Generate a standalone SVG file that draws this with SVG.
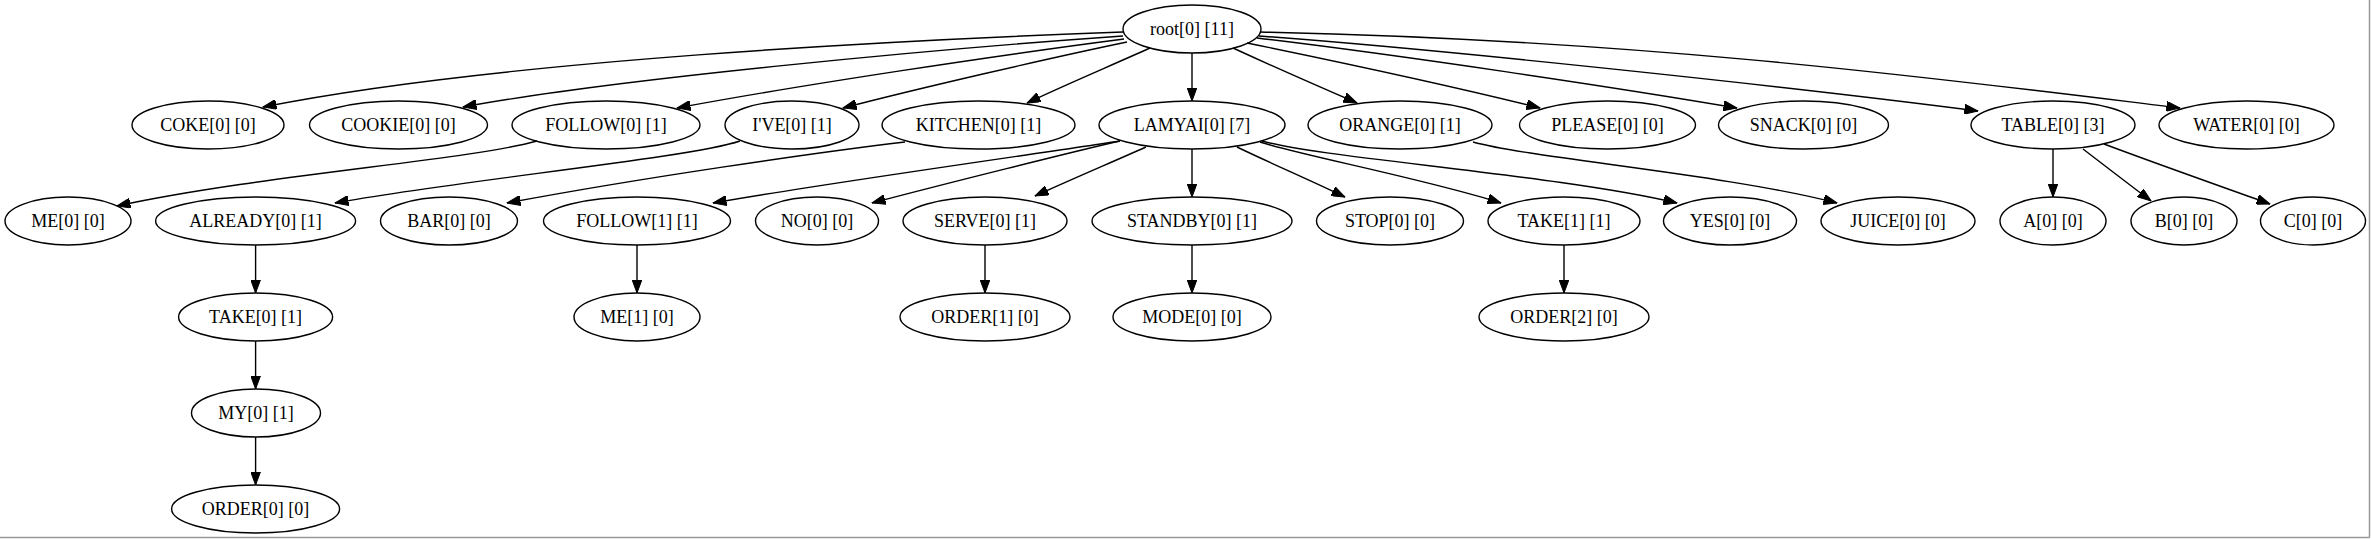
<svg xmlns="http://www.w3.org/2000/svg" width="2371" height="539" viewBox="0 0 2371 539">
<defs>
<style>
.n ellipse{fill:none;stroke:#000;stroke-width:1.4}
.n text{font-family:"Liberation Serif","Times New Roman",serif;font-size:18px;text-anchor:middle;fill:#000}
.e path{fill:none;stroke:#000;stroke-width:1.4;marker-end:url(#ah)}
</style>
<marker id="ah" viewBox="0 0 14 10" markerWidth="14" markerHeight="10" refX="13.5" refY="5" orient="auto" markerUnits="userSpaceOnUse">
<path d="M0,0 L13.5,5 L0,10 z" fill="#000" stroke="#000" stroke-width="1"/>
</marker>
</defs>
<rect width="2371" height="539" fill="#fff"/>
<line x1="0" y1="537.5" x2="2369.5" y2="537.5" stroke="#999" stroke-width="1.5"/>
<line x1="2369.5" y1="0" x2="2369.5" y2="537.5" stroke="#999" stroke-width="1.5"/>
<g class="e" id="edges">
<path d="M1123,32 C900,40 500,60 263,107"/>
<path d="M1123,36 C950,48 620,78 463,107"/>
<path d="M1124,39 C1000,55 800,85 677,108"/>
<path d="M1127,42 C1050,58 920,88 843,108"/>
<path d="M1150,48 C1110,66 1060,87 1027,103"/>
<path d="M1192,53 L1192,101"/>
<path d="M1233,48 C1270,65 1320,87 1357,103"/>
<path d="M1247,43 C1320,58 1440,83 1540,108"/>
<path d="M1257,38 C1400,55 1620,88 1737,108"/>
<path d="M1259,36 C1450,50 1800,88 1978,111"/>
<path d="M1260,32 C1650,40 1950,80 2180,108"/>
<path d="M537,141 C470,160 260,175 117,206"/>
<path d="M740,141 C690,158 460,180 335,203"/>
<path d="M905,142 C820,152 640,178 507,203"/>
<path d="M1120,141 C1050,152 820,184 713,203"/>
<path d="M1120,141 C1080,150 940,185 872,203"/>
<path d="M1146,147 C1110,163 1070,180 1035,196"/>
<path d="M1192,149 L1192,197"/>
<path d="M1237,147 C1270,163 1310,180 1345,197"/>
<path d="M1260,142 C1300,155 1430,180 1501,203"/>
<path d="M1262,141 C1320,158 1560,175 1677,203"/>
<path d="M1473,142 C1530,158 1730,175 1837,203"/>
<path d="M2053,149 L2053,197"/>
<path d="M2083,149 C2105,166 2130,185 2151,201"/>
<path d="M2104,144 C2160,165 2220,186 2270,204"/>
<path d="M255.6,245 L255.6,293"/>
<path d="M255.6,341 L255.6,389"/>
<path d="M255.6,437 L255.6,485"/>
<path d="M637,245 L637,293"/>
<path d="M985,245 L985,293"/>
<path d="M1192,245 L1192,293"/>
<path d="M1564,245 L1564,293"/>
</g>
<g class="n" id="root"><ellipse cx="1192" cy="29" rx="69" ry="24"/><text x="1192" y="35">root[0] [11]</text></g>
<g class="n" id="coke"><ellipse cx="208" cy="125" rx="76" ry="24"/><text x="208" y="131">COKE[0] [0]</text></g>
<g class="n" id="cookie"><ellipse cx="398.5" cy="125" rx="89" ry="24"/><text x="398.5" y="131">COOKIE[0] [0]</text></g>
<g class="n" id="follow0"><ellipse cx="606" cy="125" rx="94" ry="24"/><text x="606" y="131">FOLLOW[0] [1]</text></g>
<g class="n" id="ive"><ellipse cx="792" cy="125" rx="67" ry="24"/><text x="792" y="131">I'VE[0] [1]</text></g>
<g class="n" id="kitchen"><ellipse cx="978.5" cy="125" rx="96.5" ry="24"/><text x="978.5" y="131">KITCHEN[0] [1]</text></g>
<g class="n" id="lamyai"><ellipse cx="1192" cy="125" rx="93" ry="24"/><text x="1192" y="131">LAMYAI[0] [7]</text></g>
<g class="n" id="orange"><ellipse cx="1400" cy="125" rx="92" ry="24"/><text x="1400" y="131">ORANGE[0] [1]</text></g>
<g class="n" id="please"><ellipse cx="1607.5" cy="125" rx="88" ry="24"/><text x="1607.5" y="131">PLEASE[0] [0]</text></g>
<g class="n" id="snack"><ellipse cx="1803.5" cy="125" rx="85" ry="24"/><text x="1803.5" y="131">SNACK[0] [0]</text></g>
<g class="n" id="table"><ellipse cx="2053" cy="125" rx="82" ry="24"/><text x="2053" y="131">TABLE[0] [3]</text></g>
<g class="n" id="water"><ellipse cx="2246.5" cy="125" rx="87.5" ry="24"/><text x="2246.5" y="131">WATER[0] [0]</text></g>
<g class="n" id="me0"><ellipse cx="68" cy="221" rx="63" ry="24"/><text x="68" y="227">ME[0] [0]</text></g>
<g class="n" id="already"><ellipse cx="255.6" cy="221" rx="100" ry="24"/><text x="255.6" y="227">ALREADY[0] [1]</text></g>
<g class="n" id="bar"><ellipse cx="449" cy="221" rx="68.5" ry="24"/><text x="449" y="227">BAR[0] [0]</text></g>
<g class="n" id="follow1"><ellipse cx="637" cy="221" rx="93.5" ry="24"/><text x="637" y="227">FOLLOW[1] [1]</text></g>
<g class="n" id="no"><ellipse cx="817" cy="221" rx="61.5" ry="24"/><text x="817" y="227">NO[0] [0]</text></g>
<g class="n" id="serve"><ellipse cx="985" cy="221" rx="82" ry="24"/><text x="985" y="227">SERVE[0] [1]</text></g>
<g class="n" id="standby"><ellipse cx="1192" cy="221" rx="100" ry="24"/><text x="1192" y="227">STANDBY[0] [1]</text></g>
<g class="n" id="stop"><ellipse cx="1390" cy="221" rx="73.5" ry="24"/><text x="1390" y="227">STOP[0] [0]</text></g>
<g class="n" id="take1"><ellipse cx="1564" cy="221" rx="76" ry="24"/><text x="1564" y="227">TAKE[1] [1]</text></g>
<g class="n" id="yes"><ellipse cx="1730" cy="221" rx="66.5" ry="24"/><text x="1730" y="227">YES[0] [0]</text></g>
<g class="n" id="juice"><ellipse cx="1898" cy="221" rx="77" ry="24"/><text x="1898" y="227">JUICE[0] [0]</text></g>
<g class="n" id="a"><ellipse cx="2053" cy="221" rx="53" ry="24"/><text x="2053" y="227">A[0] [0]</text></g>
<g class="n" id="b"><ellipse cx="2184" cy="221" rx="53" ry="24"/><text x="2184" y="227">B[0] [0]</text></g>
<g class="n" id="c"><ellipse cx="2313" cy="221" rx="52.5" ry="24"/><text x="2313" y="227">C[0] [0]</text></g>
<g class="n" id="take0"><ellipse cx="255.6" cy="317" rx="77" ry="24"/><text x="255.6" y="323">TAKE[0] [1]</text></g>
<g class="n" id="me1"><ellipse cx="637" cy="317" rx="63" ry="24"/><text x="637" y="323">ME[1] [0]</text></g>
<g class="n" id="order1"><ellipse cx="985" cy="317" rx="85" ry="24"/><text x="985" y="323">ORDER[1] [0]</text></g>
<g class="n" id="mode"><ellipse cx="1192" cy="317" rx="79" ry="24"/><text x="1192" y="323">MODE[0] [0]</text></g>
<g class="n" id="order2"><ellipse cx="1564" cy="317" rx="85" ry="24"/><text x="1564" y="323">ORDER[2] [0]</text></g>
<g class="n" id="my"><ellipse cx="256" cy="413" rx="64.5" ry="24"/><text x="256" y="419">MY[0] [1]</text></g>
<g class="n" id="order0"><ellipse cx="255.6" cy="509" rx="84" ry="24"/><text x="255.6" y="515">ORDER[0] [0]</text></g>
</svg>
